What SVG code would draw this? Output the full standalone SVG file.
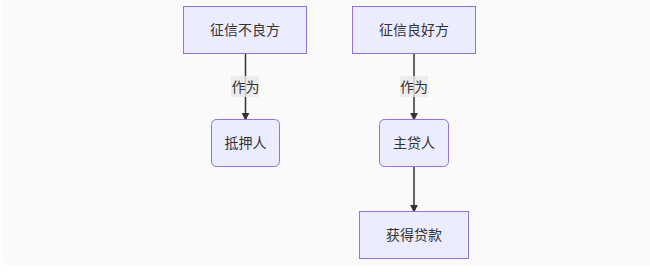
<svg xmlns="http://www.w3.org/2000/svg" width="650" height="272" viewBox="0 0 650 272">
<defs>
<style>
.node rect{fill:#ECECFF;stroke:#9370DB;stroke-width:1}
.node text,.lbl text{font-family:"Liberation Sans","Noto Sans CJK SC",sans-serif;font-size:14px;fill:#333;text-anchor:middle;dominant-baseline:central}
.edge{stroke:#333;stroke-width:1.5;fill:none;marker-end:url(#arr)}
.lbl rect{fill:#e8e8e8;opacity:0.8}
</style>
<marker id="arr" viewBox="0 0 10 10" refX="9" refY="5" markerWidth="8" markerHeight="8" markerUnits="userSpaceOnUse" orient="auto">
<path d="M0,0 L10,5 L0,10 z" fill="#333"/>
</marker>
</defs>
<rect x="2" y="-10" width="660" height="276" rx="10" fill="#fafafa"/>
<g id="connectors">
<line class="edge" x1="245.5" y1="54" x2="245.5" y2="120"/>
<line class="edge" x1="414" y1="54" x2="414" y2="120"/>
<line class="edge" x1="414" y1="167" x2="414" y2="212"/>
<g class="lbl"><rect x="231" y="76" width="28" height="21"/><text x="245.5" y="86.5">作为</text></g>
<g class="lbl"><rect x="400" y="76" width="28" height="21"/><text x="414" y="86.5">作为</text></g>
</g>
<g id="n1" class="node"><rect x="183.5" y="6.5" width="123" height="47"/><text x="245" y="30">征信不良方</text></g>
<g id="n2" class="node"><rect x="352.5" y="6.5" width="123" height="47"/><text x="414" y="30">征信良好方</text></g>
<g id="n3" class="node"><rect x="211.5" y="119.5" width="68" height="47" rx="5"/><text x="245.5" y="143">抵押人</text></g>
<g id="n4" class="node"><rect x="379.5" y="119.5" width="69" height="47" rx="5"/><text x="414" y="143">主贷人</text></g>
<g id="n5" class="node"><rect x="359.5" y="211.5" width="109" height="47"/><text x="414" y="235">获得贷款</text></g>
</svg>
